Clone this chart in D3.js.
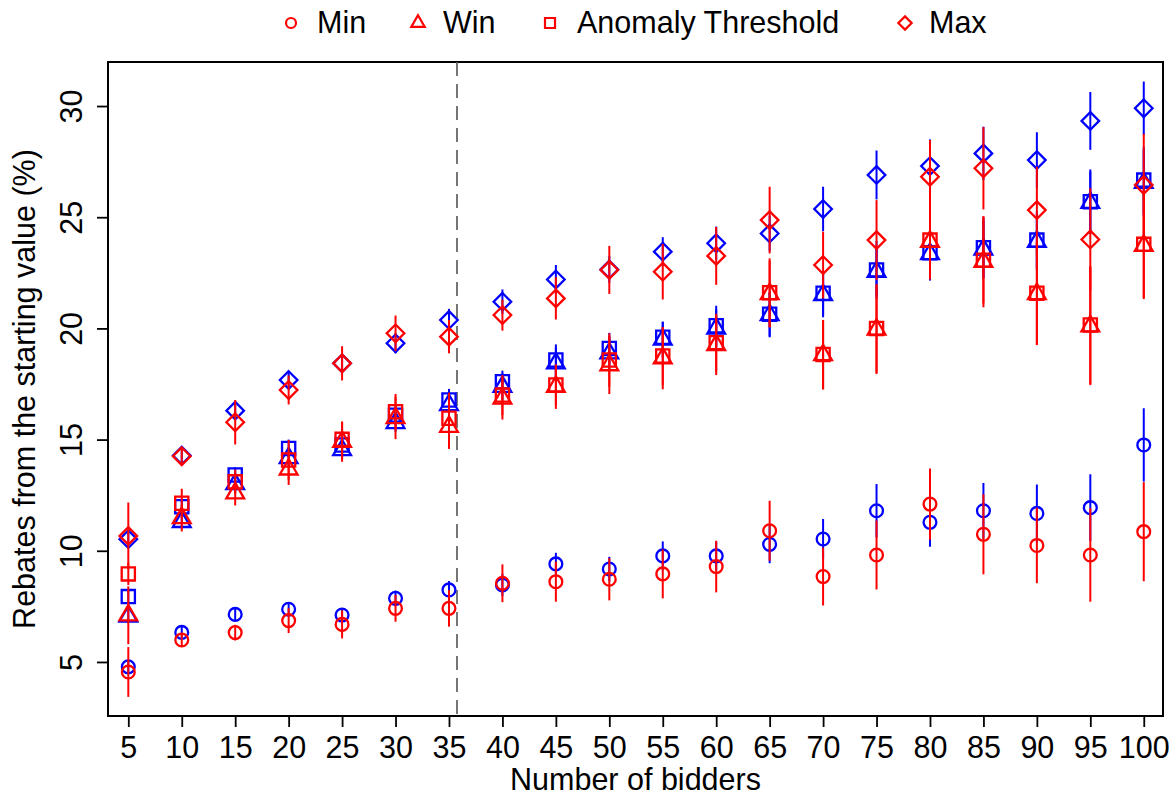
<!DOCTYPE html>
<html>
<head>
<meta charset="utf-8">
<script src="https://cdn.jsdelivr.net/npm/d3@7"></script>
<style>
  body { margin: 0; background: #fff; }
  text { font-family: "Liberation Sans", Arial, sans-serif; fill: #000; }
</style>
</head>
<body>
<div id="chart"></div>
<script>
// number of bidders (x)
var bidders = [5, 10, 15, 20, 25, 30, 35, 40, 45, 50, 55, 60, 65, 70, 75, 80, 85, 90, 95, 100];
var yTicks = [5, 10, 15, 20, 25, 30];
var cutoff = 35.75;

// blue group: means and error half-widths
var blueMin = [4.78, 6.33, 7.14, 7.37, 7.11, 7.86, 8.24, 8.46, 9.41, 9.18, 9.77, 9.77, 10.29, 10.53, 11.8, 11.28, 11.8, 11.68, 11.94, 14.76];
var blueMinErr = [0.3, 0.3, 0.3, 0.3, 0.3, 0.35, 0.4, 0.5, 0.5, 0.55, 0.65, 0.65, 0.85, 0.9, 1.2, 1.1, 1.25, 1.3, 1.5, 1.65];
var blueWin = [7.05, 11.3, 13.0, 14.17, 14.53, 15.75, 16.56, 17.38, 18.43, 18.88, 19.5, 20.0, 20.6, 21.5, 22.55, 23.35, 23.55, 23.9, 25.65, 26.55];
var blueWinErr = [0.3, 0.3, 0.35, 0.4, 0.4, 0.4, 0.45, 0.6, 0.7, 0.75, 0.8, 0.85, 1.0, 1.0, 1.1, 1.2, 1.3, 1.3, 1.4, 1.5];
var blueAnom = [7.94, 11.98, 13.41, 14.6, 14.76, 16.1, 16.78, 17.6, 18.58, 19.1, 19.6, 20.12, 20.64, 21.58, 22.63, 23.4, 23.63, 23.97, 25.7, 26.67];
var blueAnomErr = [0.3, 0.3, 0.35, 0.4, 0.4, 0.4, 0.5, 0.5, 0.7, 0.7, 0.7, 0.9, 1.0, 1.0, 1.3, 1.2, 1.35, 1.3, 1.45, 1.5];
var blueMax = [10.52, 14.28, 16.3, 17.68, 18.43, 19.33, 20.38, 21.2, 22.2, 22.65, 23.45, 23.83, 24.27, 25.37, 26.9, 27.3, 27.87, 27.57, 29.33, 29.9];
var blueMaxErr = [0.3, 0.3, 0.3, 0.35, 0.4, 0.45, 0.5, 0.55, 0.65, 0.6, 0.65, 0.75, 0.8, 1.0, 1.1, 1.2, 1.2, 1.25, 1.3, 1.2];

// red group
var redMin = [4.55, 5.99, 6.32, 6.86, 6.69, 7.41, 7.41, 8.54, 8.61, 8.72, 8.96, 9.29, 10.9, 8.84, 9.81, 12.1, 10.74, 10.24, 9.81, 10.86];
var redMinErr = [1.12, 0.3, 0.35, 0.56, 0.63, 0.6, 0.82, 0.85, 0.9, 0.95, 1.1, 1.16, 1.35, 1.3, 1.55, 1.6, 1.8, 1.7, 2.1, 2.23];
var redWin = [7.1, 11.47, 12.59, 13.66, 14.9, 15.97, 15.58, 16.85, 17.38, 18.35, 18.66, 19.25, 21.55, 18.8, 19.95, 23.9, 23.0, 21.55, 20.1, 23.72];
var redWinErr = [1.3, 0.6, 0.55, 0.7, 0.9, 0.95, 1.0, 0.95, 1.0, 1.3, 1.4, 1.35, 1.5, 1.55, 2.0, 1.7, 2.05, 2.3, 2.65, 2.4];
var redAnom = [8.96, 12.14, 13.1, 14.08, 15.01, 16.25, 15.96, 17.0, 17.46, 18.58, 18.76, 19.36, 21.6, 18.83, 20.0, 23.97, 23.07, 21.58, 20.15, 23.78];
var redAnomErr = [0.5, 0.65, 0.55, 0.9, 0.8, 0.8, 1.15, 0.9, 0.9, 1.2, 1.3, 1.3, 1.55, 1.55, 2.0, 1.75, 1.95, 2.3, 2.65, 2.4];
var redMax = [10.67, 14.25, 15.78, 17.23, 18.43, 19.78, 19.63, 20.6, 21.35, 22.63, 22.55, 23.26, 24.87, 22.85, 23.97, 26.82, 27.2, 25.32, 24.0, 26.45];
var redMaxErr = [1.5, 0.35, 1.0, 0.65, 0.77, 0.8, 0.75, 0.7, 0.95, 1.08, 1.25, 1.3, 1.5, 1.5, 1.8, 1.65, 1.85, 1.95, 2.3, 2.3];

var legendLabels = ["Min", "Win", "Anomaly Threshold", "Max"];
var shapes = ["circle", "triangle", "square", "diamond"];

var width = 1176, height = 798;
var box = {left: 108, right: 1163, top: 62, bottom: 716};
var fontSize = "30.5px";

var svg = d3.select("#chart").append("svg")
    .attr("width", width)
    .attr("height", height);

var x = d3.scaleLinear().domain([3.1, 101.8]).range([box.left, box.right]);
var y = d3.scaleLinear().domain([2.57, 31.98]).range([box.bottom, box.top]);

// open symbols, k = size unit
function symbolPath(shape, k) {
    var r;
    if (shape == "circle") {
        r = k;
        return "M" + r + ",0A" + r + "," + r + " 0 1,1 " + (-r) + ",0A" + r + "," + r + " 0 1,1 " + r + ",0Z";
    }
    if (shape == "square") {
        r = 1.0 * k;
        return "M" + (-r) + "," + (-r) + "H" + r + "V" + r + "H" + (-r) + "Z";
    }
    if (shape == "triangle") {
        var top = 1.555 * k, half = 1.347 * k, low = 0.7776 * k;
        return "M0," + (-top) + "L" + half + "," + low + "L" + (-half) + "," + low + "Z";
    }
    r = 1.33 * k;
    return "M0," + (-r) + "L" + r + ",0L0," + r + "L" + (-r) + ",0Z";
}

// axes
var xAxis = d3.axisBottom(x).tickValues(bidders).tickSize(11);
var yAxis = d3.axisLeft(y).tickValues(yTicks).tickSize(11);

var gx = svg.append("g")
    .attr("transform", "translate(0," + box.bottom + ")")
    .call(xAxis);
gx.select(".domain").remove();
gx.selectAll("line").attr("stroke", "#000").attr("stroke-width", 1.8);
gx.selectAll("text")
    .style("font-family", "Liberation Sans, Arial, sans-serif")
    .style("font-size", fontSize)
    .attr("y", 42)
    .attr("dy", null);

var gy = svg.append("g")
    .attr("transform", "translate(" + box.left + ",0)")
    .call(yAxis);
gy.select(".domain").remove();
gy.selectAll("line").attr("stroke", "#000").attr("stroke-width", 1.8);
gy.selectAll("text")
    .style("font-family", "Liberation Sans, Arial, sans-serif")
    .style("font-size", fontSize)
    .attr("text-anchor", "middle")
    .attr("dy", null)
    .attr("x", null)
    .attr("y", 0)
    .attr("transform", "translate(-26,0) rotate(-90)");

// box
svg.append("rect")
    .attr("x", box.left)
    .attr("y", box.top)
    .attr("width", box.right - box.left)
    .attr("height", box.bottom - box.top)
    .attr("fill", "none")
    .attr("stroke", "#000")
    .attr("stroke-width", 2);

// axis titles
svg.append("text")
    .attr("x", (box.left + box.right) / 2)
    .attr("y", 790)
    .attr("text-anchor", "middle")
    .style("font-size", fontSize)
    .text("Number of bidders");

svg.append("text")
    .attr("transform", "translate(35," + ((box.top + box.bottom) / 2) + ") rotate(-90)")
    .attr("text-anchor", "middle")
    .style("font-size", fontSize)
    .text("Rebates from the starting value (%)");

// cutoff line
svg.append("line")
    .attr("x1", x(cutoff))
    .attr("x2", x(cutoff))
    .attr("y1", box.top)
    .attr("y2", box.bottom)
    .attr("stroke", "#555")
    .attr("stroke-width", 1.6)
    .attr("stroke-dasharray", "14,8");

var groups = [
    {color: "#0000ff", series: [
        {shape: "circle", mean: blueMin, err: blueMinErr},
        {shape: "triangle", mean: blueWin, err: blueWinErr},
        {shape: "square", mean: blueAnom, err: blueAnomErr},
        {shape: "diamond", mean: blueMax, err: blueMaxErr}
    ]},
    {color: "#ff0000", series: [
        {shape: "circle", mean: redMin, err: redMinErr},
        {shape: "triangle", mean: redWin, err: redWinErr},
        {shape: "square", mean: redAnom, err: redAnomErr},
        {shape: "diamond", mean: redMax, err: redMaxErr}
    ]}
];

var plot = svg.append("g");

groups.forEach(function (group) {
    var g = plot.append("g");
    group.series.forEach(function (s) {
        var rows = bidders.map(function (b, i) {
            return {x: b, m: s.mean[i], e: s.err[i]};
        });
        g.append("g").selectAll("line")
            .data(rows)
            .enter().append("line")
            .attr("x1", function (d) { return x(d.x); })
            .attr("x2", function (d) { return x(d.x); })
            .attr("y1", function (d) { return y(d.m - d.e); })
            .attr("y2", function (d) { return y(d.m + d.e); })
            .attr("stroke", group.color)
            .attr("stroke-width", 2);
        g.append("g").selectAll("path")
            .data(rows)
            .enter().append("path")
            .attr("d", symbolPath(s.shape, s.shape == "circle" ? 6.4 : 6.6))
            .attr("transform", function (d) {
                return "translate(" + x(d.x) + "," + y(d.m) + ")";
            })
            .attr("fill", "none")
            .attr("stroke", group.color)
            .attr("stroke-width", 2.3);
    });
});

// legend
var legendX = [291, 418, 550, 905];
var legendTextX = [317, 443, 577, 929];
var legend = svg.append("g");
legendLabels.forEach(function (label, i) {
    legend.append("path")
        .attr("d", symbolPath(shapes[i], 5))
        .attr("transform", "translate(" + legendX[i] + ",23)")
        .attr("fill", "none")
        .attr("stroke", "#ff0000")
        .attr("stroke-width", 2.2);
    legend.append("text")
        .attr("x", legendTextX[i])
        .attr("y", 33)
        .style("font-size", fontSize)
        .text(label);
});
</script>
</body>
</html>
